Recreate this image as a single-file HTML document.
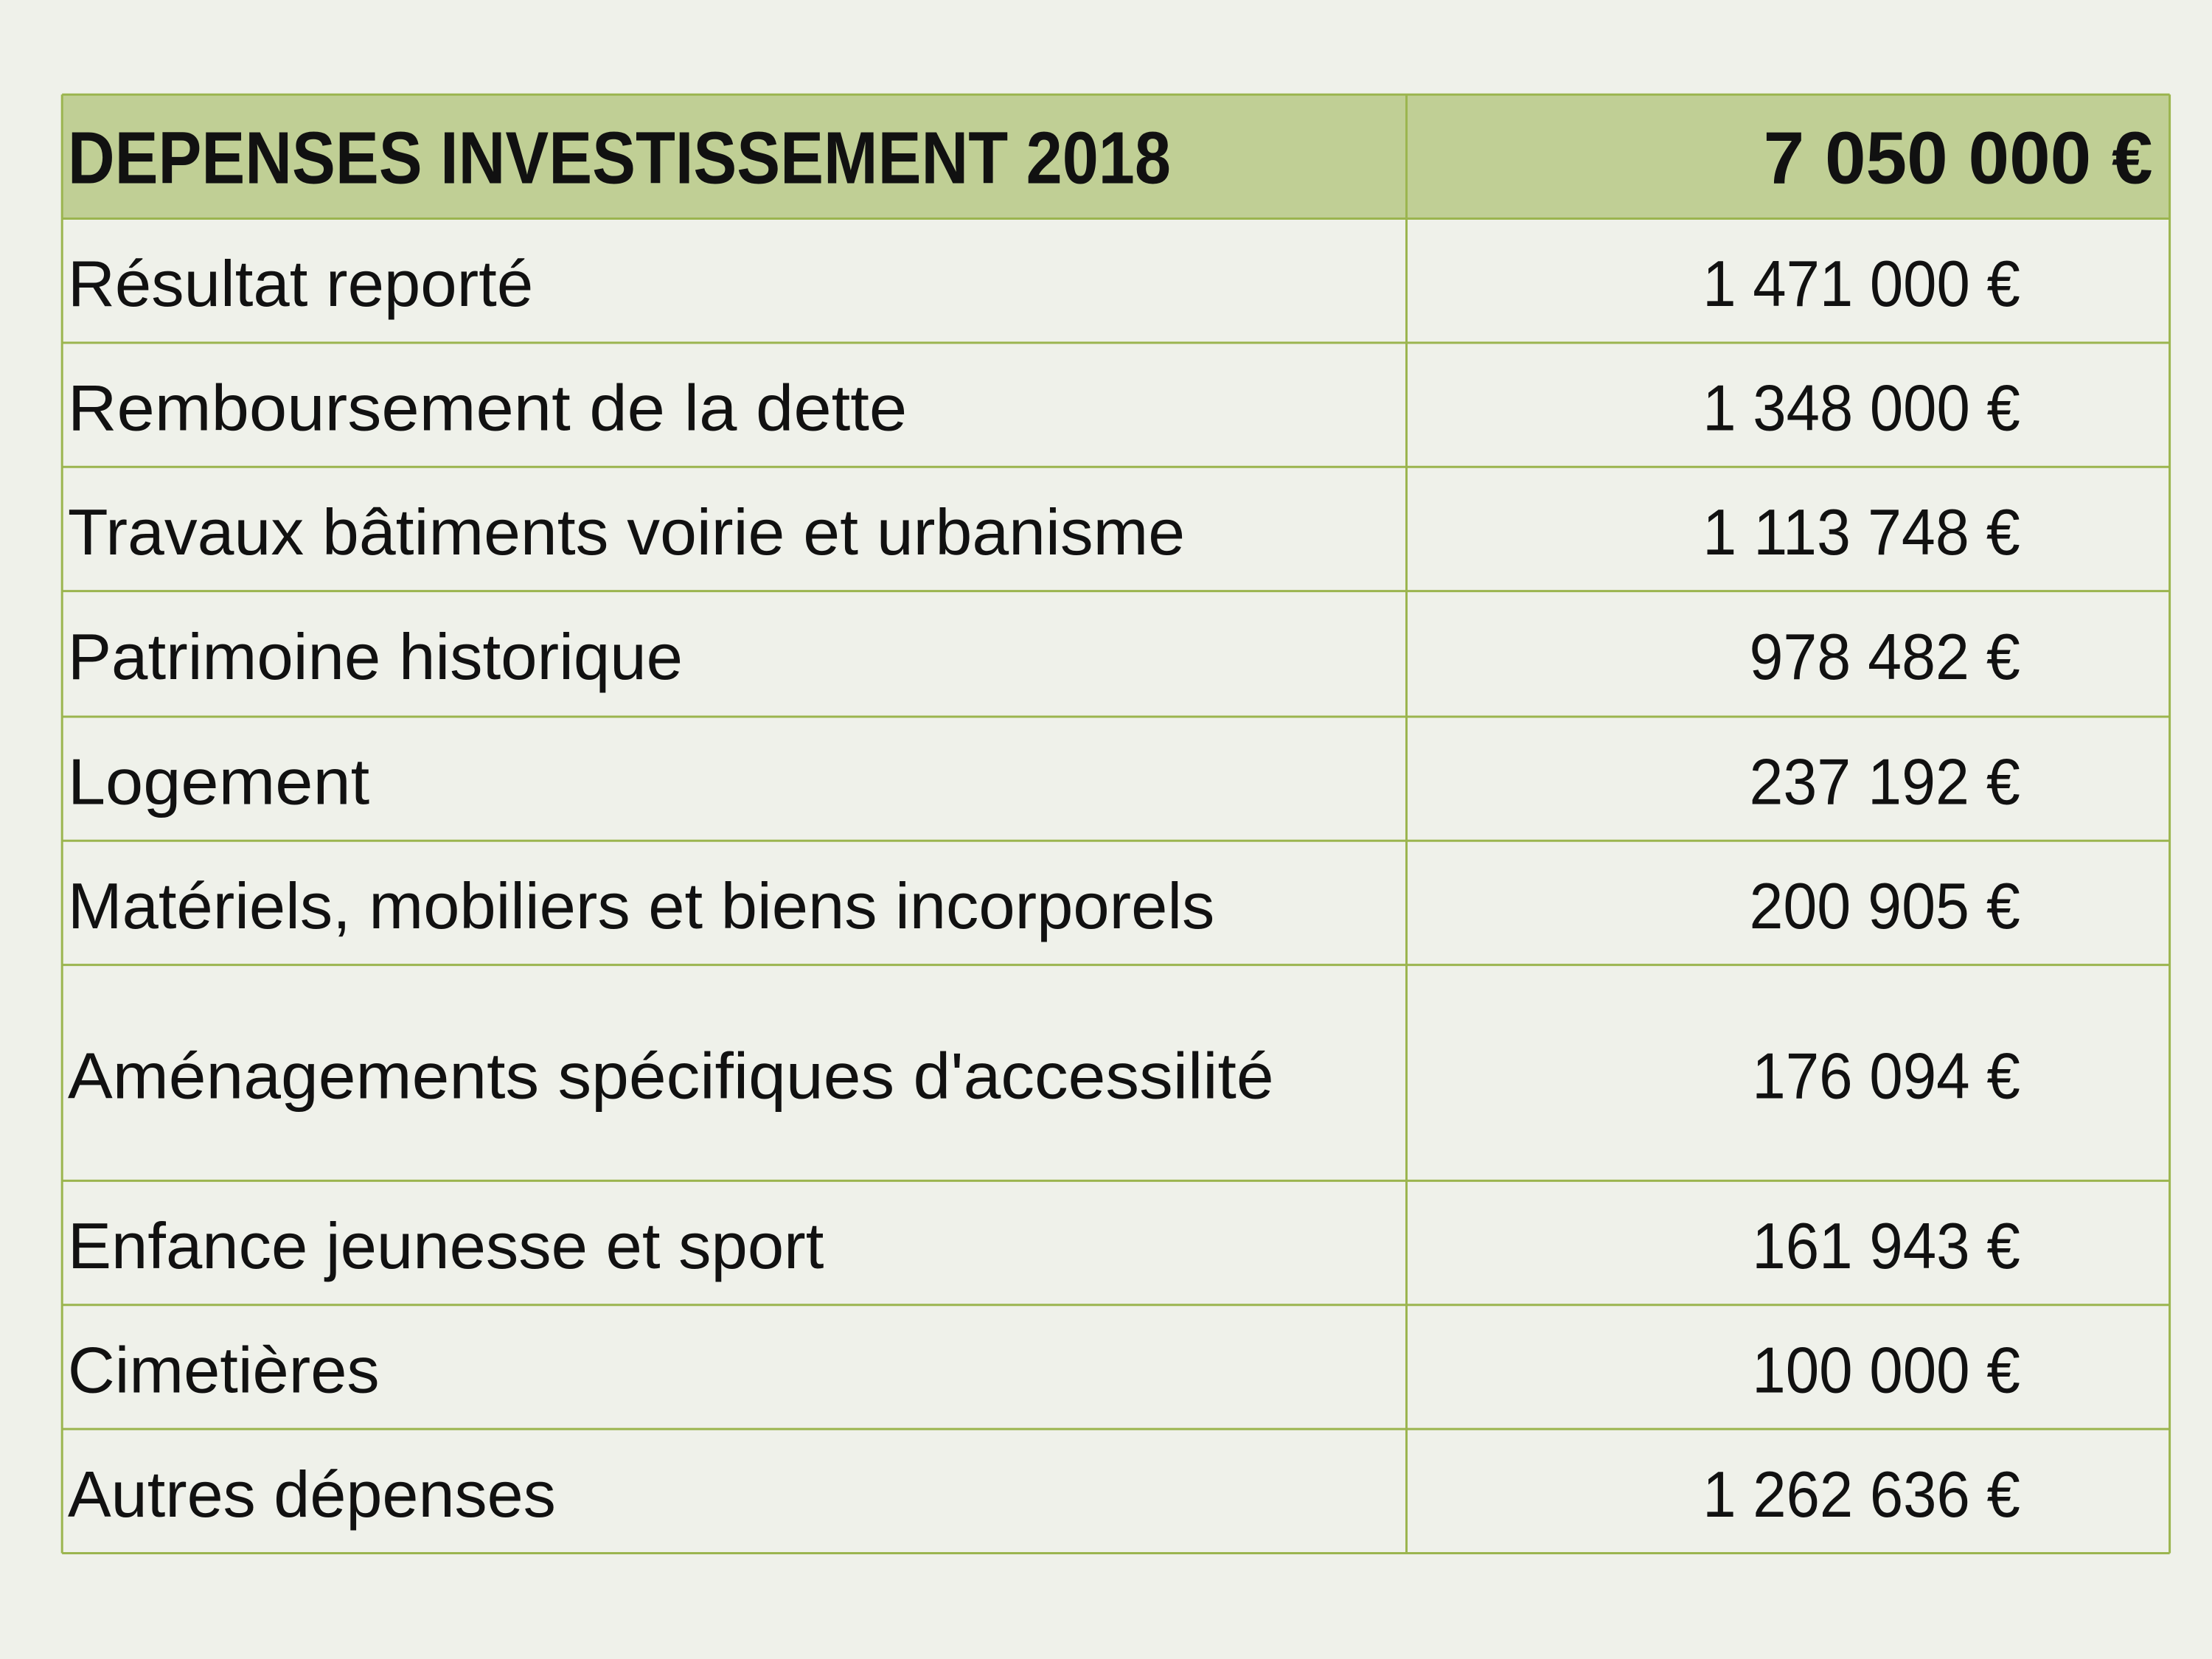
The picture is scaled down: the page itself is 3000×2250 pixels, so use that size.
<!DOCTYPE html>
<html><head><meta charset="utf-8">
<style>
html,body{margin:0;padding:0;background:#eff1ea;}
svg{display:block;}
text{font-family:"Liberation Sans",sans-serif;fill:#111;}
</style></head>
<body>
<svg id="tbl" width="3000" height="2250" viewBox="0 0 3000 2250" xmlns="http://www.w3.org/2000/svg">
<rect x="0" y="0" width="3000" height="2250" fill="#eff1ea"/>
</svg>
<script>
const S = 3000/1568;
const headerLabel = "DEPENSES INVESTISSEMENT 2018";
const headerValue = "7 050 000 €";
const labels = ["Résultat reporté","Remboursement de la dette","Travaux bâtiments voirie et urbanisme","Patrimoine historique","Logement","Matériels, mobiliers et biens incorporels","Aménagements spécifiques d'accessilité","Enfance jeunesse et sport","Cimetières","Autres dépenses"];
const values = ["1 471 000 €","1 348 000 €","1 113 748 €","978 482 €","237 192 €","200 905 €","176 094 €","161 943 €","100 000 €","1 262 636 €"];
const labelEnds = [378,643,840,484,262,861,903,584,269,394];
const valueStarts = [1207,1207,1207,1240,1240,1240,1242,1242,1242,1207];
const rowEdges = [155,243,331,419,508,596,684,837,925,1013,1101];
const NS = "http://www.w3.org/2000/svg";
const svg = document.getElementById('tbl');
function mk(tag, attrs){const e=document.createElementNS(NS,tag);for(const k in attrs)e.setAttribute(k,attrs[k]);svg.appendChild(e);return e;}
const L=44*S, R=1538*S, D=997*S, T=67*S;
// header fill
const hf = mk('rect',{x:L,y:T,width:R-L,height:rowEdges[0]*S-T,fill:'#c0cf95'});


const ht = mk('text',{x:48*S,y:130*S,'font-size':100,'font-weight':'bold',textLength:(830-48)*S,lengthAdjust:'spacingAndGlyphs'});
ht.textContent = headerLabel;


const hv = mk('text',{x:1250*S,y:130*S,'font-size':100,'font-weight':'bold',textLength:(1526-1250)*S,lengthAdjust:'spacingAndGlyphs'});
hv.textContent = headerValue;


for(let i=0;i<labels.length;i++){
  const top=rowEdges[i], bot=rowEdges[i+1];
  const base=(top+(bot-top)/2+18)*S;
  const t=mk('text',{x:48*S,y:base,'font-size':88,textLength:(labelEnds[i]-48)*S,lengthAdjust:'spacingAndGlyphs'});
  t.textContent=labels[i];
  
  
  const v=mk('text',{x:valueStarts[i]*S,y:base,'font-size':88,textLength:(1432-valueStarts[i])*S,lengthAdjust:'spacingAndGlyphs'});
  v.textContent=values[i];
  
  
}
// grid lines
const stroke='#9bb54f', sw=3;
const ys=[67].concat(rowEdges);
ys.forEach(y=>{const l=mk('line',{x1:L,x2:R,y1:y*S,y2:y*S,stroke:stroke,'stroke-width':sw});

});
[L,D,R].forEach(x=>{const l=mk('line',{x1:x,x2:x,y1:T,y2:rowEdges[rowEdges.length-1]*S,stroke:stroke,'stroke-width':sw});

});
</script>
</body></html>
